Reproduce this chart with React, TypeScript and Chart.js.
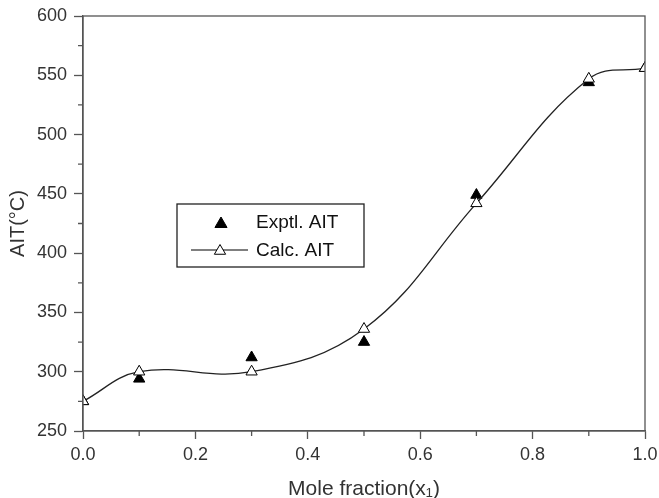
import React, { useEffect, useRef } from "react";
import { Chart, registerables } from "chart.js";

Chart.register(...registerables);

const moleFractions = [0, 0.1, 0.3, 0.5, 0.7, 0.9, 1.0];
const exptlAIT = [275, 294, 312, 325, 449, 544, 556];
const calcAIT = [275, 300, 300, 336, 442, 547, 556];
const xMajorTicks = [0, 0.2, 0.4, 0.6, 0.8, 1.0];
const xMinorTicks = [0.1, 0.3, 0.5, 0.7, 0.9];
const yMajorTicks = [250, 300, 350, 400, 450, 500, 550, 600];
const yMinorTicks = [275, 325, 375, 425, 475, 525, 575];
const legendLabels = ["Exptl. AIT", "Calc. AIT"];

const AXIS = "#555";
const TEXT = "#333";
const FONT = "'Liberation Sans', Arial, sans-serif";

function drawTriangle(ctx: CanvasRenderingContext2D, x: number, y: number, r: number, fill: string) {
  ctx.beginPath();
  ctx.moveTo(x, y - r);
  ctx.lineTo(x + r * 0.866, y + r * 0.5);
  ctx.lineTo(x - r * 0.866, y + r * 0.5);
  ctx.closePath();
  ctx.fillStyle = fill;
  ctx.fill();
  ctx.strokeStyle = "#000";
  ctx.lineWidth = 1;
  ctx.stroke();
}

const framePlugin = {
  id: "frame",
  afterDraw(chart: any) {
    const { ctx, chartArea, scales } = chart;
    const { left, right, top, bottom } = chartArea;
    ctx.save();
    ctx.strokeStyle = AXIS;
    ctx.lineWidth = 1.3;
    ctx.strokeRect(left, top, right - left, bottom - top);
    // minor ticks
    ctx.beginPath();
    xMinorTicks.forEach((v) => {
      const px = scales.x.getPixelForValue(v);
      ctx.moveTo(px, bottom);
      ctx.lineTo(px, bottom + 5);
    });
    yMinorTicks.forEach((v) => {
      const py = scales.y.getPixelForValue(v);
      ctx.moveTo(left, py);
      ctx.lineTo(left - 5, py);
    });
    ctx.stroke();

    // legend
    const bx = 177, by = 204, bw = 187, bh = 63;
    ctx.strokeStyle = "#222";
    ctx.lineWidth = 1.3;
    ctx.strokeRect(bx, by, bw, bh);
    const row1 = by + 18, row2 = by + 46;
    drawTriangle(ctx, 221, row1 + 2, 7, "#000");
    ctx.beginPath();
    ctx.strokeStyle = "#000";
    ctx.lineWidth = 1.2;
    ctx.moveTo(191, row2);
    ctx.lineTo(248, row2);
    ctx.stroke();
    drawTriangle(ctx, 220, row2 + 1, 6.5, "#fff");
    ctx.fillStyle = "#111";
    ctx.font = `19px ${FONT}`;
    ctx.textBaseline = "middle";
    ctx.textAlign = "left";
    ctx.fillText(legendLabels[0], 256, row1 + 1);
    ctx.fillText(legendLabels[1], 256, row2 + 1);
    ctx.restore();
  },
};

export default function App() {
  const ref = useRef<HTMLCanvasElement>(null);
  useEffect(() => {
    if (!ref.current) return;
    const chart = new Chart(ref.current, {
      type: "line",
      data: {
        datasets: [
          {
            label: legendLabels[1],
            data: moleFractions.map((x, i) => ({ x, y: calcAIT[i] })),
            borderColor: "#222",
            borderWidth: 1.3,
            tension: 0.4,
            pointStyle: "triangle",
            pointRadius: 6.5,
            pointBackgroundColor: "#fff",
            pointBorderColor: "#000",
            pointBorderWidth: 1,
            clip: 0,
          },
          {
            label: legendLabels[0],
            data: moleFractions.map((x, i) => ({ x, y: exptlAIT[i] })),
            showLine: false,
            pointStyle: "triangle",
            pointRadius: 6.5,
            pointBackgroundColor: "#000",
            pointBorderColor: "#000",
            borderColor: "#000",
            clip: 0,
          },
        ],
      },
      options: {
        animation: false,
        responsive: true,
        maintainAspectRatio: false,
        layout: { padding: { top: 16, right: 14, left: 0, bottom: 0 } },
        plugins: { legend: { display: false }, tooltip: { enabled: false } },
        scales: {
          x: {
            type: "linear",
            min: 0,
            max: 1,
            afterBuildTicks: (s: any) => {
              s.ticks = xMajorTicks.map((v) => ({ value: v }));
            },
            afterFit: (s: any) => {
              s.height = 67;
              s.paddingLeft = 0;
              s.paddingRight = 0;
            },
            ticks: {
              color: TEXT,
              font: { family: FONT, size: 18 },
              padding: 5,
              callback: (v: any) => Number(v).toFixed(1),
            },
            grid: {
              drawOnChartArea: false,
              drawTicks: true,
              tickLength: 8,
              tickColor: AXIS,
              tickWidth: 1.3,
            },
            border: { color: AXIS, width: 1.3 },
            title: {
              display: true,
              text: "Mole fraction(x\u2081)",
              color: TEXT,
              font: { family: FONT, size: 21 },
              padding: { top: 0, bottom: -4 },
            },
          },
          y: {
            type: "linear",
            min: 250,
            max: 600,
            afterBuildTicks: (s: any) => {
              s.ticks = yMajorTicks.map((v) => ({ value: v }));
            },
            afterFit: (s: any) => {
              s.width = 83;
              s.paddingTop = 0;
              s.paddingBottom = 0;
            },
            ticks: {
              color: TEXT,
              font: { family: FONT, size: 18 },
              padding: 7,
            },
            grid: {
              drawOnChartArea: false,
              drawTicks: true,
              tickLength: 9,
              tickColor: AXIS,
              tickWidth: 1.3,
            },
            border: { color: AXIS, width: 1.3 },
            title: {
              display: true,
              text: "AIT(\u00B0C)",
              color: TEXT,
              font: { family: FONT, size: 20 },
              padding: { top: 6, bottom: 0 },
            },
          },
        },
      },
      plugins: [framePlugin],
    });
    return () => chart.destroy();
  }, []);
  return (
    <div style={{ position: "absolute", left: 0, top: 0, width: 659, height: 498, background: "#fff" }}>
      <canvas ref={ref} />
    </div>
  );
}
